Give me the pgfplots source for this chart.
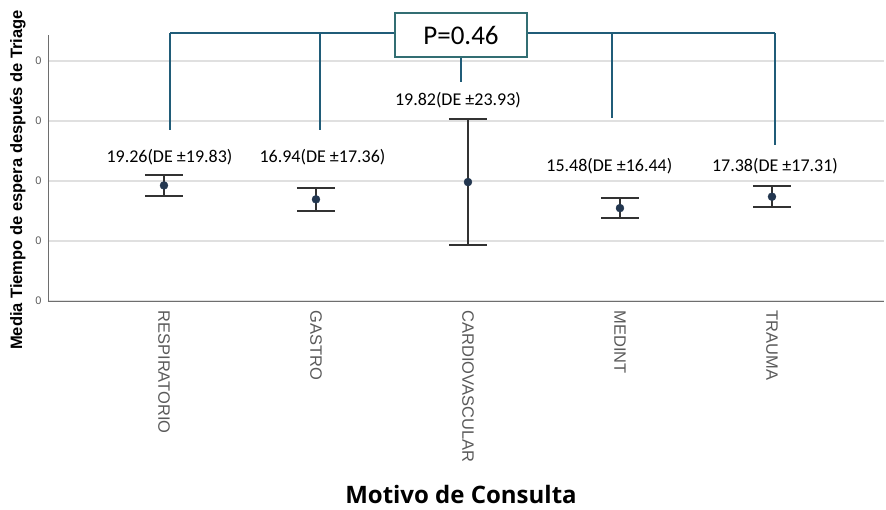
\documentclass[border=0pt]{standalone}
\usepackage{pgfplots}
\pgfplotsset{compat=1.18}
\usepackage{pgfplotstable}
\usepackage{fontspec}
\setmainfont{Carlito}
\newfontfamily\arialf{Liberation Sans}
\newfontfamily\osf{Open Sans}
\definecolor{bracket}{RGB}{32,92,120}
\definecolor{boxc}{RGB}{50,110,115}
\definecolor{dotc}{RGB}{35,55,80}
\definecolor{errc}{RGB}{50,50,50}
\definecolor{axc}{RGB}{110,110,110}
\definecolor{tickc}{RGB}{90,90,90}

\pgfplotstableread{
x y ep em
0 19.26 1.74 1.76
1 16.94 1.89 1.94
2 19.82 10.51 10.49
3 15.48 1.69 1.65
4 17.38 1.79 1.71
}\data

\begin{document}
\begin{tikzpicture}
\useasboundingbox (-48pt,-209pt) rectangle (838pt,301pt);
\begin{axis}[
  at={(0,0)}, anchor=south west,
  scale only axis,
  width=836pt, height=266pt,
  xmin=-0.763, xmax=4.737,
  ymin=0, ymax=44.33,
  axis lines=left,
  axis line style={-, axc, line width=0.8pt},
  xtick={0,1,2,3,4},
  xticklabels={RESPIRATORIO,GASTRO,CARDIOVASCULAR,MEDINT,TRAUMA},
  ytick={0,10,20,30,40},
  yticklabels={0,0,0,0,0},
  major tick length=0pt,
  ymajorgrids,
  grid style={line width=1.5pt, black!12},
  x tick label style={rotate=-90, anchor=west, text=tickc, font=\arialf\fontsize{16.5}{18}\selectfont, xshift=6pt},
  y tick label style={text=tickc, font=\arialf\fontsize{11}{12}\selectfont, xshift=-3pt},
  xlabel={Motivo de Consulta},
  xlabel style={at={(axis description cs:0.494,-0.726)}, anchor=center, font=\osf\bfseries\fontsize{24}{27}\selectfont},
  ylabel={Media Tiempo de espera después de Triage},
  ylabel style={at={(axis description cs:-0.036,0.455)}, anchor=center, rotate=0, font=\arialf\bfseries\fontsize{16.5}{19}\selectfont},
  clip=false,
]
\addplot[only marks, mark=*, mark size=4pt, mark options={fill=dotc, draw=dotc},
  error bars/.cd, y dir=both, y explicit,
  error bar style={line width=1.4pt, errc},
  error mark=|,
  error mark options={mark size=19pt, line width=1.4pt, errc}]
  table[x=x, y=y, y error plus=ep, y error minus=em] {\data};

% bracket
\draw[bracket, line width=2.5pt] (axis cs:0.04,44.67) -- (axis cs:4.02,44.67);
\draw[bracket, line width=2.5pt] (axis cs:0.04,44.67) -- (axis cs:0.04,28.5);
\draw[bracket, line width=2.5pt] (axis cs:1.026,44.67) -- (axis cs:1.026,28.5);
\draw[bracket, line width=2.5pt] (axis cs:2.947,44.67) -- (axis cs:2.947,30.5);
\draw[bracket, line width=2.5pt] (axis cs:4.02,44.67) -- (axis cs:4.02,26);
\draw[bracket, line width=2.5pt] (axis cs:1.954,41) -- (axis cs:1.954,36.5);
\node[draw=boxc, fill=white, line width=1.3pt, minimum width=132pt, minimum height=44pt, inner sep=0pt, font=\fontsize{27}{30}\selectfont] at (axis cs:1.954,44.33) {P=0.46};

% value labels
\node[font=\fontsize{18}{21}\selectfont] at (axis cs:0.036,24.0) {19.26(DE ±19.83)};
\node[font=\fontsize{18}{21}\selectfont] at (axis cs:1.043,24.0) {16.94(DE ±17.36)};
\node[font=\fontsize{18}{21}\selectfont] at (axis cs:1.934,33.5) {19.82(DE ±23.93)};
\node[font=\fontsize{18}{21}\selectfont] at (axis cs:2.93,22.5) {15.48(DE ±16.44)};
\node[font=\fontsize{18}{21}\selectfont] at (axis cs:4.02,22.5) {17.38(DE ±17.31)};
\end{axis}
\end{tikzpicture}
\end{document}
